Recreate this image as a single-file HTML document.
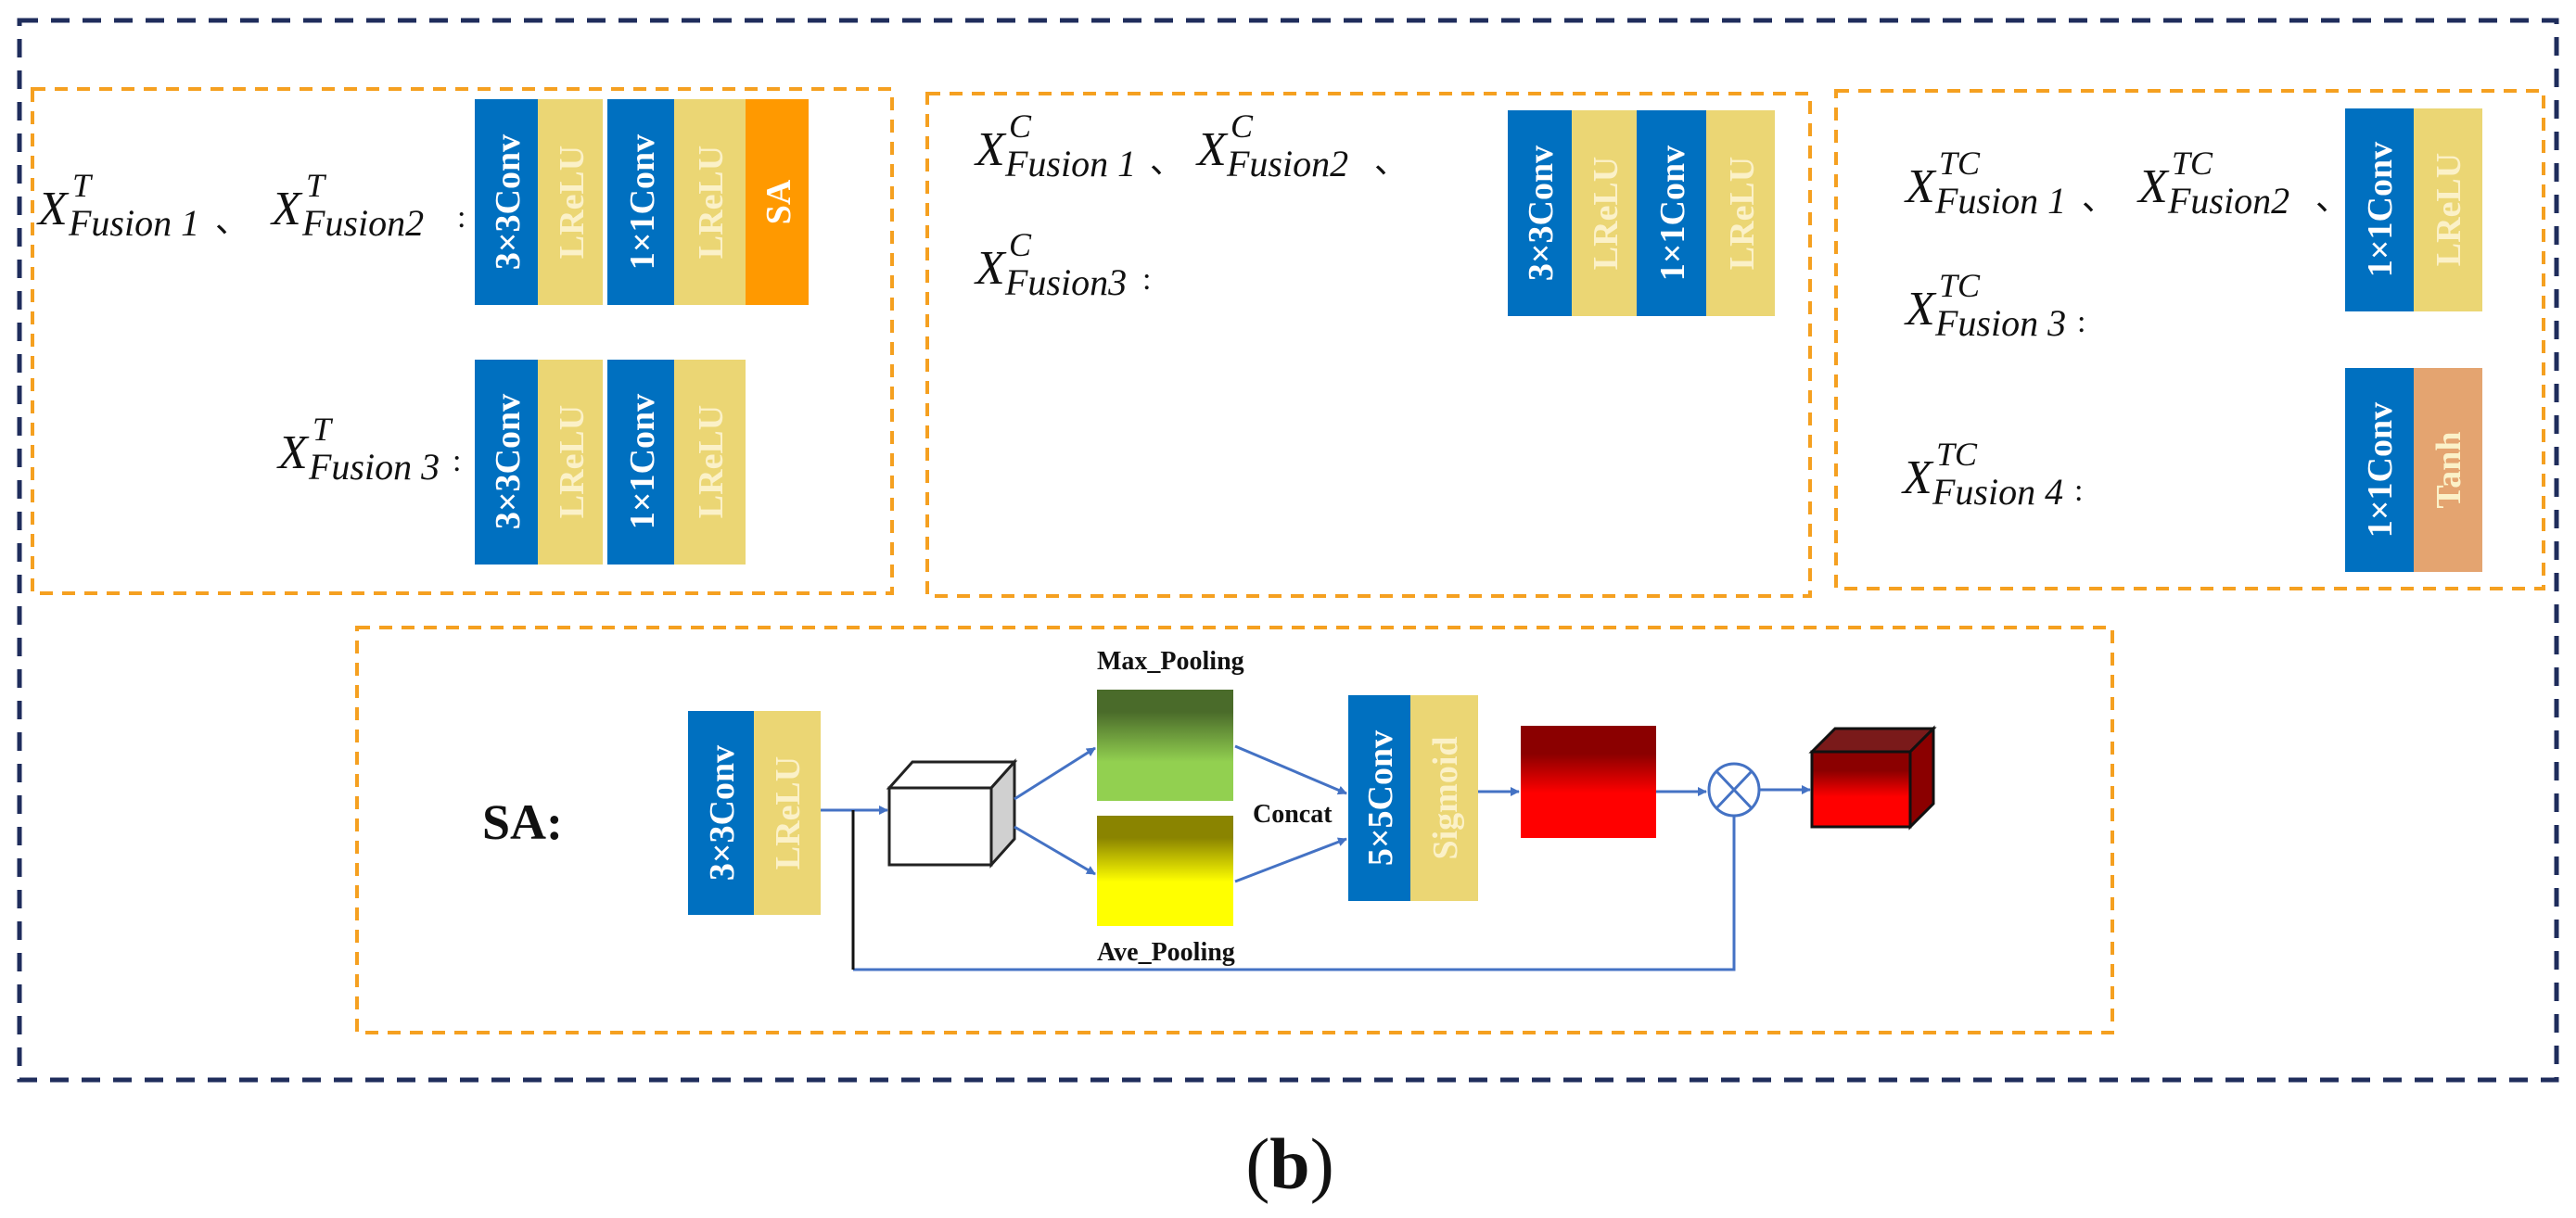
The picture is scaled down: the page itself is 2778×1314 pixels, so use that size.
<!DOCTYPE html>
<html><head><meta charset="utf-8"><style>
html,body{margin:0;padding:0;background:#fff;}
svg{display:block;}
.m{font-family:"Liberation Serif",serif;font-style:italic;fill:#111;}
.bt{font-family:"Liberation Serif",serif;font-weight:bold;font-size:38px;}
</style></head><body>
<svg width="2778" height="1314" viewBox="0 0 2778 1314" xmlns="http://www.w3.org/2000/svg">
<defs>
<linearGradient id="gmax" x1="0" y1="0" x2="0" y2="1"><stop offset="0.2" stop-color="#4a6b2a"/><stop offset="0.65" stop-color="#92d050"/></linearGradient>
<linearGradient id="gave" x1="0" y1="0" x2="0" y2="1"><stop offset="0.2" stop-color="#8a8400"/><stop offset="0.6" stop-color="#ffff00"/></linearGradient>
<linearGradient id="gred" x1="0" y1="0" x2="0" y2="1"><stop offset="0.25" stop-color="#8b0000"/><stop offset="0.6" stop-color="#ff0000"/></linearGradient>
<marker id="ar" markerWidth="10" markerHeight="10" refX="9" refY="5" orient="auto" markerUnits="userSpaceOnUse"><path d="M0,0 L10,5 L0,10 z" fill="#4472c4"/></marker>
</defs>
<g fill="none" stroke-linecap="butt">
<rect x="21" y="22" width="2736" height="1143" stroke="#1f2d5c" stroke-width="5" stroke-dasharray="20 14"/>
<rect x="35" y="96" width="927" height="544" stroke="#f5a020" stroke-width="4" stroke-dasharray="14 10"/>
<rect x="1000" y="101" width="952" height="542" stroke="#f5a020" stroke-width="4" stroke-dasharray="14 10"/>
<rect x="1980" y="98" width="763" height="537" stroke="#f5a020" stroke-width="4" stroke-dasharray="14 10"/>
<rect x="385" y="677" width="1893" height="437" stroke="#f5a020" stroke-width="4" stroke-dasharray="14 10"/>
</g>

<!-- Box1 blocks -->
<rect x="512" y="107" width="68" height="222" fill="#0070c0"/>
<rect x="580" y="107" width="70" height="222" fill="#ebd674"/>
<rect x="655" y="107" width="72" height="222" fill="#0070c0"/>
<rect x="727" y="107" width="77" height="222" fill="#ebd674"/>
<rect x="804" y="107" width="68" height="222" fill="#ff9900"/>
<g class="bt" text-anchor="middle">
<text transform="translate(560,218) rotate(-90)" fill="#fff">3×3Conv</text>
<text transform="translate(629,218) rotate(-90)" fill="#fbf1c8">LReLU</text>
<text transform="translate(705,218) rotate(-90)" fill="#fff">1×1Conv</text>
<text transform="translate(779,218) rotate(-90)" fill="#fbf1c8">LReLU</text>
<text transform="translate(852,218) rotate(-90)" fill="#fff">SA</text>
</g>
<rect x="512" y="388" width="68" height="221" fill="#0070c0"/>
<rect x="580" y="388" width="70" height="221" fill="#ebd674"/>
<rect x="655" y="388" width="72" height="221" fill="#0070c0"/>
<rect x="727" y="388" width="77" height="221" fill="#ebd674"/>
<g class="bt" text-anchor="middle">
<text transform="translate(560,498) rotate(-90)" fill="#fff">3×3Conv</text>
<text transform="translate(629,498) rotate(-90)" fill="#fbf1c8">LReLU</text>
<text transform="translate(705,498) rotate(-90)" fill="#fff">1×1Conv</text>
<text transform="translate(779,498) rotate(-90)" fill="#fbf1c8">LReLU</text>
</g>

<!-- Box2 blocks -->
<rect x="1626" y="119" width="69" height="222" fill="#0070c0"/>
<rect x="1695" y="119" width="70" height="222" fill="#ebd674"/>
<rect x="1765" y="119" width="75" height="222" fill="#0070c0"/>
<rect x="1840" y="119" width="74" height="222" fill="#ebd674"/>
<g class="bt" text-anchor="middle">
<text transform="translate(1674,230) rotate(-90)" fill="#fff">3×3Conv</text>
<text transform="translate(1744,230) rotate(-90)" fill="#fbf1c8">LReLU</text>
<text transform="translate(1816,230) rotate(-90)" fill="#fff">1×1Conv</text>
<text transform="translate(1891,230) rotate(-90)" fill="#fbf1c8">LReLU</text>
</g>

<!-- Box3 blocks -->
<rect x="2529" y="117" width="74" height="219" fill="#0070c0"/>
<rect x="2603" y="117" width="74" height="219" fill="#ebd674"/>
<rect x="2529" y="397" width="74" height="220" fill="#0070c0"/>
<rect x="2603" y="397" width="74" height="220" fill="#e4a470"/>
<g class="bt" text-anchor="middle">
<text transform="translate(2579,226) rotate(-90)" fill="#fff">1×1Conv</text>
<text transform="translate(2653,226) rotate(-90)" fill="#fbf1c8">LReLU</text>
<text transform="translate(2579,507) rotate(-90)" fill="#fff">1×1Conv</text>
<text transform="translate(2653,507) rotate(-90)" fill="#fbf1c8">Tanh</text>
</g>

<!-- Math labels -->
<g class="m">
<!-- T -->
<text x="41" y="242" font-size="52">X</text><text x="78" y="212" font-size="36">T</text><text x="74" y="254" font-size="40">Fusion 1</text><text x="232" y="250" font-size="36" font-style="normal">、</text>
<text x="293" y="242" font-size="52">X</text><text x="330" y="212" font-size="36">T</text><text x="326" y="254" font-size="40">Fusion2</text><text x="493" y="245" font-size="34" font-style="normal">:</text>
<text x="300" y="505" font-size="52">X</text><text x="337" y="475" font-size="36">T</text><text x="333" y="517" font-size="40">Fusion 3</text><text x="488" y="508" font-size="34" font-style="normal">:</text>
<!-- C -->
<text x="1052" y="178" font-size="52">X</text><text x="1088" y="148" font-size="36">C</text><text x="1084" y="190" font-size="40">Fusion 1</text><text x="1240" y="186" font-size="36" font-style="normal">、</text>
<text x="1291" y="178" font-size="52">X</text><text x="1327" y="148" font-size="36">C</text><text x="1323" y="190" font-size="40">Fusion2</text><text x="1482" y="186" font-size="36" font-style="normal">、</text>
<text x="1052" y="306" font-size="52">X</text><text x="1088" y="276" font-size="36">C</text><text x="1084" y="318" font-size="40">Fusion3</text><text x="1232" y="312" font-size="34" font-style="normal">:</text>
<!-- TC -->
<text x="2055" y="218" font-size="52">X</text><text x="2091" y="188" font-size="36">TC</text><text x="2087" y="230" font-size="40">Fusion 1</text><text x="2245" y="226" font-size="36" font-style="normal">、</text>
<text x="2306" y="218" font-size="52">X</text><text x="2342" y="188" font-size="36">TC</text><text x="2338" y="230" font-size="40">Fusion2</text><text x="2497" y="226" font-size="36" font-style="normal">、</text>
<text x="2055" y="350" font-size="52">X</text><text x="2091" y="320" font-size="36">TC</text><text x="2087" y="362" font-size="40">Fusion 3</text><text x="2240" y="358" font-size="34" font-style="normal">:</text>
<text x="2052" y="532" font-size="52">X</text><text x="2088" y="502" font-size="36">TC</text><text x="2084" y="544" font-size="40">Fusion 4</text><text x="2237" y="540" font-size="34" font-style="normal">:</text>
</g>

<!-- SA section -->
<text x="520" y="905" font-family="Liberation Serif,serif" font-weight="bold" font-size="54" fill="#111">SA:</text>
<rect x="742" y="767" width="71" height="220" fill="#0070c0"/>
<rect x="813" y="767" width="72" height="220" fill="#ebd674"/>
<g class="bt" text-anchor="middle">
<text transform="translate(791,877) rotate(-90)" fill="#fff">3×3Conv</text>
<text transform="translate(862,877) rotate(-90)" fill="#fbf1c8">LReLU</text>
</g>
<rect x="1454" y="750" width="67" height="222" fill="#0070c0"/>
<rect x="1521" y="750" width="73" height="222" fill="#ebd674"/>
<g class="bt" text-anchor="middle">
<text transform="translate(1501,861) rotate(-90)" fill="#fff">5×5Conv</text>
<text transform="translate(1571,861) rotate(-90)" fill="#fbf1c8">Sigmoid</text>
</g>
<!-- white cube -->
<g stroke="#222" stroke-width="3">
<polygon points="959,850 984,822 1094,822 1069,850" fill="#fff"/>
<polygon points="1069,850 1094,822 1094,905 1069,933" fill="#d0d0d0"/>
<rect x="959" y="850" width="110" height="83" fill="#fff"/>
</g>
<!-- pooling -->
<rect x="1183" y="744" width="147" height="120" fill="url(#gmax)"/>
<rect x="1183" y="880" width="147" height="119" fill="url(#gave)"/>
<g font-family="Liberation Serif,serif" font-weight="bold" font-size="28" fill="#111">
<text x="1183" y="722">Max_Pooling</text>
<text x="1183" y="1036">Ave_Pooling</text>
<text x="1351" y="887">Concat</text>
</g>
<rect x="1640" y="783" width="146" height="121" fill="url(#gred)"/>
<!-- red cube -->
<g stroke="#111" stroke-width="3">
<polygon points="1954,811 1979,786 2085,786 2060,811" fill="#7a1a1a"/>
<polygon points="2060,811 2085,786 2085,867 2060,892" fill="#8b0000"/>
<rect x="1954" y="811" width="106" height="81" fill="url(#gred)"/>
</g>
<!-- connectors -->
<g stroke="#4472c4" stroke-width="3" fill="none">
<line x1="885" y1="874" x2="957" y2="874" marker-end="url(#ar)"/>
<line x1="1094" y1="862" x2="1181" y2="807" marker-end="url(#ar)"/>
<line x1="1094" y1="892" x2="1181" y2="943" marker-end="url(#ar)"/>
<line x1="1332" y1="805" x2="1452" y2="856" marker-end="url(#ar)"/>
<line x1="1332" y1="951" x2="1452" y2="905" marker-end="url(#ar)"/>
<line x1="1594" y1="854" x2="1638" y2="854" marker-end="url(#ar)"/>
<line x1="1786" y1="854" x2="1840" y2="854" marker-end="url(#ar)"/>
<line x1="1898" y1="852" x2="1952" y2="852" marker-end="url(#ar)"/>
<polyline points="920,1046 1870,1046 1870,880"/>
<ellipse cx="1870" cy="852" rx="27" ry="28"/>
<line x1="1851" y1="832" x2="1889" y2="872"/>
<line x1="1889" y1="832" x2="1851" y2="872"/>
</g>
<line x1="920" y1="874" x2="920" y2="1046" stroke="#111" stroke-width="3"/>

<text x="1391" y="1282" text-anchor="middle" font-family="Liberation Serif,serif" font-size="78" fill="#111">(<tspan font-weight="bold">b</tspan>)</text>
</svg>
</body></html>
